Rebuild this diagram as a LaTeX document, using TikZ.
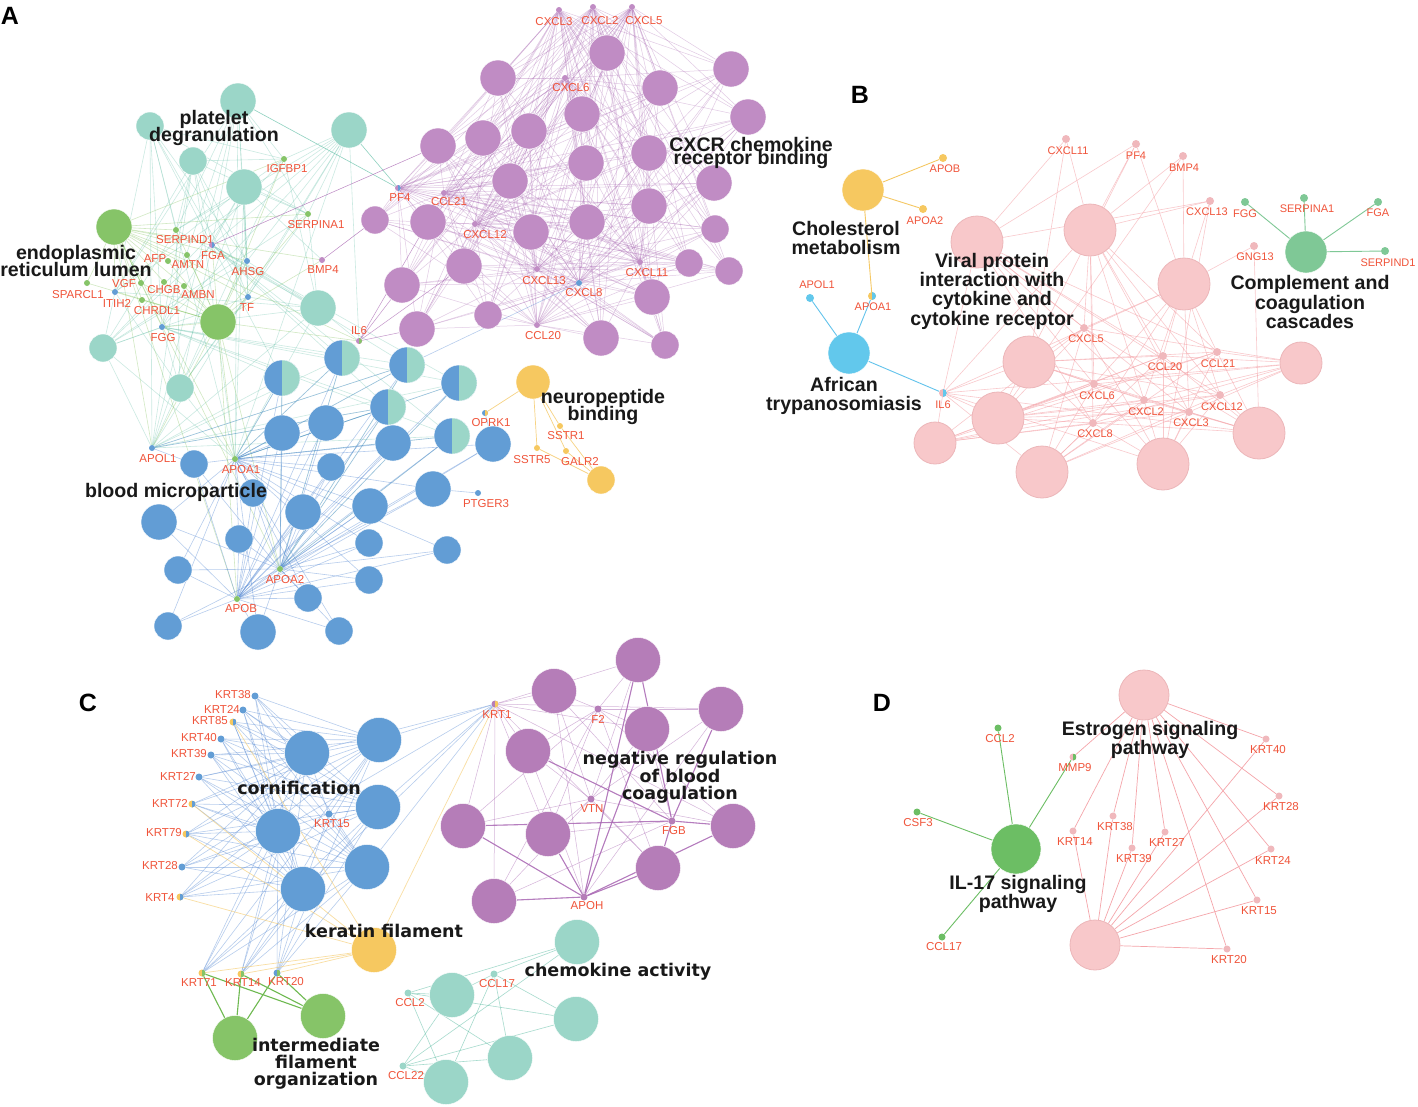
\documentclass[tikz,border=0pt]{standalone}
\usepackage{fontspec}
\setmainfont{Liberation Sans}
\newfontfamily\dvs{DejaVu Sans}
\pgfdeclarelayer{edges}
\pgfsetlayers{edges,main}
\definecolor{gl}{RGB}{240,84,58}
\definecolor{cteal}{RGB}{155,214,200}
\definecolor{cgreen}{RGB}{134,196,104}
\definecolor{cpurp}{RGB}{192,140,196}
\definecolor{cpurpc}{RGB}{181,125,184}
\definecolor{cblue}{RGB}{98,157,213}
\definecolor{cyel}{RGB}{246,200,96}
\definecolor{cpink}{RGB}{248,200,202}
\definecolor{cpinkd}{RGB}{236,182,185}
\definecolor{cpinkg}{RGB}{240,184,188}
\definecolor{csky}{RGB}{98,200,236}
\definecolor{cgreenB}{RGB}{127,200,150}
\definecolor{cgreenD}{RGB}{108,190,100}
\definecolor{eteal}{RGB}{95,190,165}
\definecolor{egreen}{RGB}{140,200,105}
\definecolor{eblue}{RGB}{75,130,210}
\definecolor{epurp}{RGB}{170,105,180}
\definecolor{epink}{RGB}{245,165,170}
\definecolor{eyel}{RGB}{245,200,100}
\definecolor{esky}{RGB}{98,195,236}
\definecolor{egreenC}{RGB}{110,185,80}
\newcommand\myterm[5]{\node[term,fill=#5,minimum size=#4pt] (#1) at (#2,#3) {};}
\newcommand\mygene[7]{\node[gdot,#4] (#1) at (#2,#3) {}; \node[glab] (#1l) at (#6,#7) {#5};}
\begin{document}
\begin{tikzpicture}[x=1pt,y=-1pt,
  term/.style={circle,inner sep=0pt,draw=white,line width=0.4pt},
  pterm/.style={circle,inner sep=0pt,fill=cpink,draw=cpinkd,line width=0.8pt},
  splitn/.style={circle,inner sep=0pt,draw=white,line width=0.4pt,fill=cblue,minimum size=36pt,
    path picture={\fill[cteal] (path picture bounding box.north) rectangle (path picture bounding box.south east);}},
  halfdot/.style 2 args={fill=#1,path picture={\fill[#2] (path picture bounding box.north) rectangle (path picture bounding box.south east);}},
  gdot/.style={circle,inner sep=0pt,minimum size=6pt,draw=none},
  glab/.style={text=gl,font=\fontsize{11.5}{11.5}\selectfont,inner sep=0pt},
  bigA/.style={font=\fontsize{19.6}{14}\selectfont\bfseries,align=center,inner sep=0pt,text=black!90},
  bigB/.style={font=\fontsize{19.6}{19.3}\selectfont\bfseries,align=center,inner sep=0pt,text=black!90},
  bigC/.style={font=\dvs\fontsize{17.5}{16.8}\selectfont\bfseries,align=center,inner sep=0pt,text=black!90},
  bigD/.style={font=\fontsize{19.6}{18}\selectfont\bfseries,align=center,inner sep=0pt,text=black!90},
  panel/.style={font=\fontsize{25}{25}\selectfont\bfseries,inner sep=0pt},
  lteal/.style={draw=eteal,line width=0.6pt,opacity=0.32},
  lgreen/.style={draw=egreen,line width=0.6pt,opacity=0.4},
  lblue/.style={draw=eblue,line width=0.6pt,opacity=0.4},
  lpurp/.style={draw=epurp,line width=0.5pt,opacity=0.35},
  lpink/.style={draw=epink,line width=0.6pt,opacity=0.6},
  lyel/.style={draw=eyel,line width=0.7pt,opacity=0.8},
  lsky/.style={draw=esky,line width=0.9pt},
  lgreenB/.style={draw=cgreenB,line width=0.9pt},
  lgreenC/.style={draw=egreenC,line width=1.1pt},
  lgreenD/.style={draw=cgreenD,line width=0.9pt},
  lpinkD/.style={draw=epink,line width=0.7pt}
]
\useasboundingbox (0,0) rectangle (1418,1106);
\begin{pgfonlayer}{edges}
\fill[white] (0,0) rectangle (1418,1106);
\end{pgfonlayer}

% ================= Panel A =================
\node[panel] (pA) at (10,16) {A};
% purple terms
\myterm{ap1}{607}{53}{36}{cpurp}
\myterm{ap2}{498}{78}{36}{cpurp}
\myterm{ap3}{660}{88}{36}{cpurp}
\myterm{ap4}{731}{69}{36}{cpurp}
\myterm{ap5}{748}{117}{36}{cpurp}
\myterm{ap6}{582}{114}{36}{cpurp}
\myterm{ap7}{529}{131}{36}{cpurp}
\myterm{ap8}{483}{138}{36}{cpurp}
\myterm{ap9}{438}{146}{36}{cpurp}
\myterm{ap10}{586}{163}{36}{cpurp}
\myterm{ap11}{649}{153}{36}{cpurp}
\myterm{ap12}{510}{181}{36}{cpurp}
\myterm{ap13}{714}{183}{36}{cpurp}
\myterm{ap14}{649}{206}{36}{cpurp}
\myterm{ap15}{587}{222}{36}{cpurp}
\myterm{ap16}{428}{222}{36}{cpurp}
\myterm{ap17}{375}{220}{28}{cpurp}
\myterm{ap18}{531}{232}{36}{cpurp}
\myterm{ap19}{715}{229}{28}{cpurp}
\myterm{ap20}{464}{266}{36}{cpurp}
\myterm{ap21}{689}{263}{28}{cpurp}
\myterm{ap22}{729}{271}{28}{cpurp}
\myterm{ap23}{402}{285}{36}{cpurp}
\myterm{ap24}{652}{297}{36}{cpurp}
\myterm{ap25}{488}{315}{28}{cpurp}
\myterm{ap26}{417}{329}{36}{cpurp}
\myterm{ap27}{601}{338}{36}{cpurp}
\myterm{ap28}{665}{345}{28}{cpurp}
% teal terms
\myterm{at1}{150}{126}{28}{cteal}
\myterm{at2}{238}{101}{36}{cteal}
\myterm{at3}{349}{130}{36}{cteal}
\myterm{at4}{193}{161}{28}{cteal}
\myterm{at5}{244}{187}{36}{cteal}
\myterm{at6}{318}{308}{36}{cteal}
\myterm{at7}{103}{348}{28}{cteal}
\myterm{at8}{180}{388}{28}{cteal}
% green terms
\myterm{ag1}{114}{227}{36}{cgreen}
\myterm{ag2}{218}{322}{36}{cgreen}
% split terms
\node[splitn] (as1) at (282,378) {};
\node[splitn] (as2) at (342,358) {};
\node[splitn] (as3) at (407,365) {};
\node[splitn] (as4) at (459,383) {};
\node[splitn] (as5) at (388,407) {};
\node[splitn] (as6) at (452,436) {};
% blue terms
\myterm{ab1}{282}{433}{36}{cblue}
\myterm{ab2}{326}{423}{36}{cblue}
\myterm{ab3}{194}{464}{28}{cblue}
\myterm{ab4}{393}{443}{36}{cblue}
\myterm{ab5}{493}{444}{36}{cblue}
\myterm{ab6}{331}{467}{28}{cblue}
\myterm{ab7}{253}{493}{28}{cblue}
\myterm{ab8}{433}{489}{36}{cblue}
\myterm{ab9}{159}{522}{36}{cblue}
\myterm{ab10}{303}{512}{36}{cblue}
\myterm{ab11}{370}{506}{36}{cblue}
\myterm{ab12}{239}{539}{28}{cblue}
\myterm{ab13}{369}{543}{28}{cblue}
\myterm{ab14}{447}{550}{28}{cblue}
\myterm{ab15}{178}{570}{28}{cblue}
\myterm{ab16}{369}{580}{28}{cblue}
\myterm{ab17}{308}{598}{28}{cblue}
\myterm{ab18}{168}{626}{28}{cblue}
\myterm{ab19}{258}{632}{36}{cblue}
\myterm{ab20}{339}{631}{28}{cblue}
% yellow
\myterm{ay1}{533}{382}{34}{cyel}
\myterm{ay2}{601}{480}{28}{cyel}
% genes A
\mygene{aIGFBP1}{284}{159}{fill=cgreen}{IGFBP1}{287}{169}
\mygene{aSERPINA1}{308}{214}{fill=cgreen}{SERPINA1}{316}{225}
\mygene{aSERPIND1}{176}{230}{fill=cgreen}{SERPIND1}{185}{240}
\mygene{aFGA}{212}{245}{halfdot={cpurp}{cblue}}{FGA}{213}{256}
\mygene{aAFP}{168}{261}{fill=cgreen}{AFP}{155}{259}
\mygene{aAMTN}{187}{255}{fill=cgreen}{AMTN}{188}{265}
\mygene{aAHSG}{247}{261}{fill=cblue}{AHSG}{248}{272}
\mygene{aBMP4}{322}{260}{fill=cpurp}{BMP4}{323}{270}
\mygene{aVGF}{141}{283}{fill=cgreen}{VGF}{124}{284}
\mygene{aCHGB}{164}{282}{fill=cgreen}{CHGB}{164}{290}
\mygene{aAMBN}{184}{286}{fill=cgreen}{AMBN}{198}{295}
\mygene{aSPARCL1}{87}{283}{fill=cgreen}{SPARCL1}{78}{295}
\mygene{aITIH2}{115}{292}{fill=cblue}{ITIH2}{117}{303}
\mygene{aCHRDL1}{142}{300}{fill=cgreen}{CHRDL1}{157}{311}
\mygene{aTF}{248}{297}{fill=cblue}{TF}{247}{308}
\mygene{aFGG}{162}{327}{fill=cblue}{FGG}{163}{338}
\mygene{aIL6}{359}{341}{halfdot={cpurp}{cgreen}}{IL6}{359}{331}
\mygene{aAPOL1}{152}{448}{fill=cblue}{APOL1}{158}{459}
\mygene{aAPOA1}{235}{459}{fill=cgreen}{APOA1}{241}{470}
\mygene{aAPOA2}{280}{569}{fill=cgreen}{APOA2}{285}{580}
\mygene{aAPOB}{237}{599}{fill=cgreen}{APOB}{241}{609}
\mygene{aOPRK1}{485}{413}{halfdot={cblue}{cyel}}{OPRK1}{491}{423}
\mygene{aPTGER3}{478}{493}{fill=cblue}{PTGER3}{486}{504}
\mygene{aSSTR1}{560}{426}{fill=cyel}{SSTR1}{566}{436}
\mygene{aSSTR5}{537}{448}{fill=cyel}{SSTR5}{532}{460}
\mygene{aGALR2}{566}{451}{fill=cyel}{GALR2}{580}{462}
\mygene{aCXCL3}{559}{10}{fill=cpurp}{CXCL3}{554}{22}
\mygene{aCXCL2}{593}{7}{fill=cpurp}{CXCL2}{600}{21}
\mygene{aCXCL5}{632}{7}{fill=cpurp}{CXCL5}{644}{21}
\mygene{aCXCL6}{565}{78}{fill=cpurp}{CXCL6}{571}{88}
\mygene{aPF4}{398}{188}{halfdot={cpurp}{cblue}}{PF4}{400}{198}
\mygene{aCCL21}{444}{193}{fill=cpurp}{CCL21}{449}{202}
\mygene{aCXCL12}{475}{224}{fill=cpurp}{CXCL12}{485}{235}
\mygene{aCXCL13}{537}{269}{fill=cpurp}{CXCL13}{544}{281}
\mygene{aCXCL8}{579}{283}{fill=cblue}{CXCL8}{584}{293}
\mygene{aCXCL11}{640}{262}{fill=cpurp}{CXCL11}{647}{273}
\mygene{aCCL20}{537}{325}{fill=cpurp}{CCL20}{543}{336}

\begin{pgfonlayer}{edges}
\foreach \g in {aPF4,aCCL21,aCXCL12,aCXCL13,aCXCL8,aCCL20,aCXCL11,aCXCL6,aCXCL3,aCXCL2,aCXCL5}
  {\foreach \i in {1,...,28} {\draw[lpurp] (\g) -- (ap\i);}}
\foreach \g in {aIGFBP1,aSERPINA1,aSERPIND1,aFGA,aAHSG,aTF,aFGG,aAPOL1,aAPOA1,aITIH2}
  {\foreach \i in {1,...,8} {\draw[lteal] (\g) -- (at\i);}}
\draw[lteal,opacity=0.7] (at3) -- (aPF4);
\draw[lteal,opacity=0.7] (at2) -- (aPF4);
\draw[lteal] (at6) -- (aIL6);
\draw[lteal] (at3) -- (aIL6);
\draw[lteal] (at5) -- (aBMP4);
\foreach \g in {aAPOA1,aAPOL1,aFGG,aFGA,aAPOA2}
  {\foreach \i in {1,...,6} {\draw[lteal] (\g) -- (as\i);}}
\foreach \g in {aSERPIND1,aAFP,aAMTN,aVGF,aCHGB,aAMBN,aSPARCL1,aCHRDL1,aIGFBP1,aSERPINA1,aFGA,aITIH2,aFGG,aTF,aAHSG,aBMP4,aAPOA1,aAPOA2,aAPOB,aAPOL1,aIL6}
  {\foreach \i in {1,2} {\draw[lgreen] (\g) -- (ag\i);}}
\foreach \g in {aAPOA1,aAPOA2,aAPOB}
  {\foreach \i in {1,...,20} {\draw[lblue] (\g) -- (ab\i);}
   \foreach \i in {1,...,6} {\draw[lblue] (\g) -- (as\i);}}
\draw[lblue] (aPTGER3) -- (ab8);
\draw[lblue] (aOPRK1) -- (ab5);
\draw[lblue] (aCXCL8) -- (as3);
\draw[lblue] (aAPOL1) -- (ab3);
\draw[lblue] (aAPOL1) -- (as3);
\draw[lblue] (aAPOL1) -- (as5);
\draw[lpurp,opacity=0.8] (aFGA) -- (ap9);
\draw[lpurp,opacity=0.8] (aBMP4) -- (ap17);
\foreach \i in {16,20,23,26} {\draw[lpurp,opacity=0.7] (aIL6) -- (ap\i);}
\foreach \g in {aOPRK1,aSSTR1,aSSTR5,aGALR2} {\draw[lyel] (ay1) -- (\g);}
\foreach \g in {aSSTR1,aSSTR5,aGALR2} {\draw[lyel] (ay2) -- (\g);}
\end{pgfonlayer}

\node[bigA] (lplat) at (214,128) {platelet\\[-3pt]degranulation};
\node[bigA] (ler) at (76,261) {endoplasmic\\[-3pt]reticulum lumen};
\node[bigA] (lcxcr) at (751,153) {CXCR chemokine\\[-3pt]receptor binding};
\node[bigA] (lneuro) at (603,407) {neuropeptide\\[-3pt]binding};
\node[bigA] (lblood) at (176,492) {blood microparticle};

% ================= Panel B =================
\node[panel] (pB) at (860,95) {B};
\foreach \n/\x/\y/\d in {1/977/242/52,2/1090/230/52,3/1184/284/52,4/1029/362/52,5/1301/363/42,
  6/998/418/52,7/935/443/42,8/1042/472/52,9/1163/464/52,10/1259/433/52}
  {\node[pterm,minimum size=\d pt] (bv\n) at (\x,\y) {};}
\myterm{bchol}{863}{190}{42}{cyel}
\myterm{bafr}{849}{353}{42}{csky}
\myterm{bcomp}{1306}{252}{42}{cgreenB}
\begin{scope}[gdot/.style={circle,inner sep=0pt,minimum size=8pt,draw=none},
  glab/.style={text=gl,font=\fontsize{11}{11}\selectfont,inner sep=0pt}]
\mygene{bAPOB}{943}{158}{fill=cyel}{APOB}{945}{169}
\mygene{bAPOA2}{923}{209}{fill=cyel}{APOA2}{925}{221}
\mygene{bAPOA1}{872}{296}{halfdot={cyel}{csky}}{APOA1}{873}{307}
\mygene{bAPOL1}{810}{298}{fill=csky}{APOL1}{817}{285}
\mygene{bIL6}{943}{393}{halfdot={cpinkg}{csky}}{IL6}{943}{405}
\mygene{bCXCL11}{1066}{139}{fill=cpinkg}{CXCL11}{1068}{151}
\mygene{bPF4}{1136}{144}{fill=cpinkg}{PF4}{1136}{156}
\mygene{bBMP4}{1183}{156}{fill=cpinkg}{BMP4}{1184}{168}
\mygene{bCXCL13}{1210}{201}{fill=cpinkg}{CXCL13}{1207}{212}
\mygene{bGNG13}{1254}{246}{fill=cpinkg}{GNG13}{1255}{257}
\mygene{bFGG}{1245}{202}{fill=cgreenB}{FGG}{1245}{214}
\mygene{bSERPINA1}{1304}{198}{fill=cgreenB}{SERPINA1}{1307}{209}
\mygene{bFGA}{1378}{202}{fill=cgreenB}{FGA}{1378}{213}
\mygene{bSERPIND1}{1385}{251}{fill=cgreenB}{SERPIND1}{1388}{263}
\mygene{bCXCL5}{1084}{328}{fill=cpinkg}{CXCL5}{1086}{339}
\mygene{bCCL20}{1163}{356}{fill=cpinkg}{CCL20}{1165}{367}
\mygene{bCCL21}{1217}{352}{fill=cpinkg}{CCL21}{1218}{364}
\mygene{bCXCL6}{1094}{384}{fill=cpinkg}{CXCL6}{1097}{396}
\mygene{bCXCL2}{1144}{400}{fill=cpinkg}{CXCL2}{1146}{412}
\mygene{bCXCL12}{1220}{395}{fill=cpinkg}{CXCL12}{1222}{407}
\mygene{bCXCL3}{1189}{412}{fill=cpinkg}{CXCL3}{1191}{423}
\mygene{bCXCL8}{1093}{423}{fill=cpinkg}{CXCL8}{1095}{434}
\end{scope}
\begin{pgfonlayer}{edges}
\foreach \g in {bCXCL5,bCCL20,bCCL21,bCXCL6,bCXCL2,bCXCL12,bCXCL3,bCXCL8,bIL6}
  {\foreach \i in {1,...,10} {\draw[lpink] (\g) -- (bv\i);}}
\foreach \i in {1,2,4} {\draw[lpink] (bCXCL11) -- (bv\i);}
\foreach \i in {1,2,3,6} {\draw[lpink] (bPF4) -- (bv\i);}
\foreach \i in {2,3,6} {\draw[lpink] (bBMP4) -- (bv\i);}
\foreach \i in {1,2,3,9} {\draw[lpink] (bCXCL13) -- (bv\i);}
\foreach \i in {3,10} {\draw[lpink] (bGNG13) -- (bv\i);}
\foreach \g in {bAPOB,bAPOA2,bAPOA1} {\draw[lyel,line width=0.9pt,opacity=1] (bchol) -- (\g);}
\foreach \g in {bAPOL1,bAPOA1,bIL6} {\draw[lsky] (bafr) -- (\g);}
\foreach \g in {bFGG,bSERPINA1,bFGA,bSERPIND1} {\draw[lgreenB] (bcomp) -- (\g);}
\end{pgfonlayer}
\node[bigB] (lchol) at (846,238) {Cholesterol\\metabolism};
\node[bigB] (lviral) at (992,291) {Viral protein\\interaction with\\cytokine and\\cytokine receptor};
\node[bigB] (lcomp) at (1310,302) {Complement and\\coagulation\\cascades};
\node[bigB] (lafr) at (844,396) {African\\trypanosomiasis};

% ================= Panel C =================
\node[panel] (pC) at (88,703) {C};
\myterm{cb1}{307}{753}{45}{cblue}
\myterm{cb2}{379}{740}{45}{cblue}
\myterm{cb3}{378}{807}{45}{cblue}
\myterm{cb4}{278}{831}{45}{cblue}
\myterm{cb5}{367}{867}{45}{cblue}
\myterm{cb6}{303}{889}{45}{cblue}
\myterm{cy}{374}{950}{45}{cyel}
\myterm{cg1}{235}{1038}{45}{cgreen}
\myterm{cg2}{323}{1016}{45}{cgreen}
\myterm{cp1}{638}{660}{45}{cpurpc}
\myterm{cp2}{554}{691}{45}{cpurpc}
\myterm{cp3}{721}{709}{45}{cpurpc}
\myterm{cp4}{647}{729}{45}{cpurpc}
\myterm{cp5}{528}{751}{45}{cpurpc}
\myterm{cp6}{463}{826}{45}{cpurpc}
\myterm{cp7}{548}{834}{45}{cpurpc}
\myterm{cp8}{733}{826}{45}{cpurpc}
\myterm{cp9}{658}{868}{45}{cpurpc}
\myterm{cp10}{494}{901}{45}{cpurpc}
\myterm{ct1}{577}{942}{45}{cteal}
\myterm{ct2}{452}{995}{45}{cteal}
\myterm{ct3}{576}{1019}{45}{cteal}
\myterm{ct4}{510}{1058}{45}{cteal}
\myterm{ct5}{446}{1082}{45}{cteal}
\begin{scope}[gdot/.style={circle,inner sep=0pt,minimum size=7pt,draw=none}]
\mygene{cKRT38}{255}{696}{fill=cblue}{KRT38}{233}{695}
\mygene{cKRT24}{243}{710}{fill=cblue}{KRT24}{222}{709}
\mygene{cKRT85}{233}{722}{halfdot={cyel}{cblue}}{KRT85}{210}{721}
\mygene{cKRT40}{221}{739}{fill=cblue}{KRT40}{199}{738}
\mygene{cKRT39}{211}{755}{fill=cblue}{KRT39}{189}{754}
\mygene{cKRT27}{199}{777}{fill=cblue}{KRT27}{178}{776}
\mygene{cKRT72}{192}{804}{halfdot={cyel}{cblue}}{KRT72}{170}{803}
\mygene{cKRT79}{186}{834}{halfdot={cyel}{cblue}}{KRT79}{164}{833}
\mygene{cKRT28}{182}{867}{fill=cblue}{KRT28}{160}{866}
\mygene{cKRT4}{180}{897}{halfdot={cyel}{cblue}}{KRT4}{160}{898}
\mygene{cKRT15}{329}{814}{fill=cblue}{KRT15}{332}{824}
\mygene{cKRT71}{202}{973}{halfdot={cyel}{cgreen}}{KRT71}{199}{983}
\mygene{cKRT14}{241}{974}{halfdot={cyel}{cgreen}}{KRT14}{243}{983}
\mygene{cKRT20}{277}{973}{halfdot={cblue}{cgreen}}{KRT20}{286}{982}
\mygene{cKRT1}{495}{704}{halfdot={cpurpc}{cyel}}{KRT1}{497}{715}
\mygene{cF2}{598}{709}{fill=cpurpc}{F2}{598}{719}
\mygene{cVTN}{591}{799}{fill=cpurpc}{VTN}{592}{809}
\mygene{cFGB}{672}{821}{fill=cpurpc}{FGB}{674}{831}
\mygene{cAPOH}{584}{897}{fill=cpurpc}{APOH}{587}{906}
\mygene{cCCL17}{494}{974}{fill=cteal}{CCL17}{497}{984}
\mygene{cCCL2}{408}{993}{fill=cteal}{CCL2}{410}{1003}
\mygene{cCCL22}{403}{1066}{fill=cteal}{CCL22}{406}{1076}
\end{scope}
\begin{pgfonlayer}{edges}
\foreach \g in {cKRT38,cKRT24,cKRT85,cKRT40,cKRT39,cKRT27,cKRT72,cKRT79,cKRT28,cKRT4,cKRT15,cKRT71,cKRT14,cKRT20,cKRT1}
  {\foreach \i in {1,...,6} {\draw[lblue] (\g) -- (cb\i);}}
\foreach \g in {cKRT85,cKRT72,cKRT79,cKRT4,cKRT71,cKRT14,cKRT20,cKRT1} {\draw[lyel,opacity=0.6] (cy) -- (\g);}
\foreach \g in {cKRT71,cKRT14,cKRT20} {\draw[lgreenC] (cg1) -- (\g); \draw[lgreenC] (cg2) -- (\g);}
\foreach \g in {cKRT1,cF2,cVTN,cFGB,cAPOH}
  {\foreach \i in {1,...,10} {\draw[lpurp,opacity=0.5] (\g) -- (cp\i);}}
\foreach \i in {1,4,6,7,8,9,10} {\draw[lpurp,line width=1.1pt,opacity=0.8] (cAPOH) -- (cp\i);}
\foreach \i in {1,3,5,6,8,9} {\draw[lpurp,line width=1.1pt,opacity=0.8] (cFGB) -- (cp\i);}
\foreach \g in {cCCL17,cCCL2,cCCL22}
  {\foreach \i in {1,...,5} {\draw[lteal,opacity=0.55] (\g) -- (ct\i);}}
\end{pgfonlayer}
\node[bigC] (lcorn) at (299,788) {cornification};
\node[bigC] (lker) at (384,931) {keratin filament};
\node[bigC] (linter) at (316,1064) {intermediate\\filament\\organization};
\node[bigC] (lneg) at (680,777) {negative regulation\\of blood\\coagulation};
\node[bigC] (lchem) at (618,972) {chemokine activity};

% ================= Panel D =================
\node[panel] (pD) at (882,703) {D};
\node[pterm,minimum size=50pt] (dtop) at (1144,695) {};
\node[pterm,minimum size=50pt] (dbot) at (1095,945) {};
\myterm{dil}{1016}{849}{50}{cgreenD}
\begin{scope}[gdot/.style={circle,inner sep=0pt,minimum size=7pt,draw=none}]
\mygene{dCCL2}{998}{728}{fill=cgreenD}{CCL2}{1000}{739}
\mygene{dMMP9}{1073}{757}{halfdot={cpinkg}{cgreenD}}{MMP9}{1075}{768}
\mygene{dCSF3}{917}{812}{fill=cgreenD}{CSF3}{918}{823}
\mygene{dCCL17}{942}{937}{fill=cgreenD}{CCL17}{944}{947}
\mygene{dKRT40}{1266}{739}{fill=cpinkg}{KRT40}{1268}{750}
\mygene{dKRT28}{1279}{796}{fill=cpinkg}{KRT28}{1281}{807}
\mygene{dKRT38}{1113}{816}{fill=cpinkg}{KRT38}{1115}{827}
\mygene{dKRT14}{1073}{831}{fill=cpinkg}{KRT14}{1075}{842}
\mygene{dKRT27}{1165}{832}{fill=cpinkg}{KRT27}{1167}{842}
\mygene{dKRT39}{1132}{848}{fill=cpinkg}{KRT39}{1134}{859}
\mygene{dKRT24}{1271}{849}{fill=cpinkg}{KRT24}{1273}{860}
\mygene{dKRT15}{1257}{900}{fill=cpinkg}{KRT15}{1259}{911}
\mygene{dKRT20}{1227}{949}{fill=cpinkg}{KRT20}{1229}{960}
\end{scope}
\begin{pgfonlayer}{edges}
\foreach \g in {dMMP9,dKRT14,dKRT38,dKRT39,dKRT27,dKRT40,dKRT28,dKRT24,dKRT15,dKRT20} {\draw[lpinkD] (dtop) -- (\g);}
\foreach \g in {dKRT14,dKRT38,dKRT39,dKRT27,dKRT40,dKRT28,dKRT24,dKRT15,dKRT20} {\draw[lpinkD] (dbot) -- (\g);}
\foreach \g in {dCCL2,dMMP9,dCSF3,dCCL17} {\draw[lgreenD] (dil) -- (\g);}
\end{pgfonlayer}
\node[bigD] (lestr) at (1150,740) {Estrogen signaling\\pathway};
\node[bigD] (lil17) at (1018,894) {IL-17 signaling\\pathway};
\end{tikzpicture}
\end{document}
